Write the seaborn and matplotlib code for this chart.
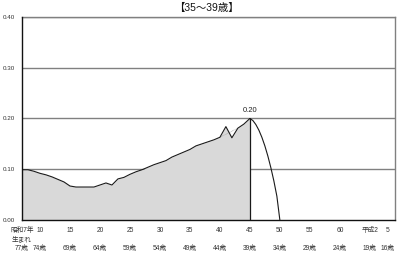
import numpy as np
import pandas as pd
import matplotlib
matplotlib.use("Agg")
import matplotlib.pyplot as plt
import seaborn as sns
from matplotlib.ticker import MultipleLocator

sns.set_style("white")
plt.rcParams['font.family'] = ['Liberation Sans', 'Noto Sans CJK JP', 'DejaVu Sans']

title = "【35～39歳】"
years = [7, 8, 9, 10, 11, 12, 13, 14, 15, 16, 17, 18, 19, 20, 21, 22, 23, 24, 25, 26,
         27, 28, 29, 30, 31, 32, 33, 34, 35, 36, 37, 38, 39, 40, 41, 42, 43, 44, 45]
values = [0.099, 0.099, 0.096, 0.092, 0.089, 0.085, 0.080, 0.075, 0.067, 0.065,
          0.065, 0.065, 0.065, 0.069, 0.073, 0.069, 0.081, 0.084, 0.090, 0.095,
          0.099, 0.104, 0.109, 0.113, 0.117, 0.124, 0.129, 0.134, 0.139, 0.146,
          0.150, 0.154, 0.158, 0.163, 0.184, 0.162, 0.181, 0.189, 0.200]
bridge_years = [40, 43]
bridge_values = [0.163, 0.181]
proj_years = [45, 45.5, 46, 46.5, 47, 47.5, 48, 48.5, 49, 49.5, 50]
proj_values = [0.200, 0.196, 0.188, 0.177, 0.163, 0.146, 0.126, 0.103, 0.077, 0.047, 0.0]
peak_label = "0.20"
xtick_pos = [7, 10, 15, 20, 25, 30, 35, 40, 45, 50, 55, 60, 65, 68]
xtick_top = ["昭和7年", "10", "15", "20", "25", "30", "35", "40", "45", "50", "55", "60", "平成2", "5"]
xtick_mid = ["生まれ", "", "", "", "", "", "", "", "", "", "", "", "", ""]
xtick_age = ["77歳", "74歳", "69歳", "64歳", "59歳", "54歳", "49歳", "44歳", "39歳",
             "34歳", "29歳", "24歳", "19歳", "16歳"]
yticks = [0.0, 0.1, 0.2, 0.3, 0.4]

df = pd.DataFrame({"year": years, "value": values})
dproj = pd.DataFrame({"year": proj_years, "value": proj_values})
dbridge = pd.DataFrame({"year": bridge_years, "value": bridge_values})

fig = plt.figure(figsize=(4.0, 2.61), dpi=100)
ax = fig.add_axes([0.055, 0.157, 0.9325, 0.778])

for yv in yticks[1:]:
    ax.axhline(yv, color="#808080", lw=1.0, zorder=1)

ax.fill_between(df["year"], 0, df["value"], color="#d9d9d9", zorder=2, lw=0)
sns.lineplot(data=df, x="year", y="value", ax=ax, color="#1a1a1a", lw=0.8, zorder=4)
sns.lineplot(data=dbridge, x="year", y="value", ax=ax, color="#999999", lw=0.5,
             linestyle=(0, (1, 1)), zorder=3)
sns.lineplot(data=dproj, x="year", y="value", ax=ax, color="#1a1a1a", lw=0.8, zorder=4)
ax.vlines(df["year"].iloc[-1], 0, df["value"].iloc[-1], color="#1a1a1a", lw=0.9, zorder=4)
ax.text(df["year"].iloc[-1], df["value"].iloc[-1] + 0.008, peak_label, ha="center",
        va="bottom", fontsize=5.5, color="#222222")

ax.set_xlim(7, 69.2)
ax.set_ylim(0, 0.40)
ax.set_xlabel("")
ax.set_ylabel("")
ax.set_yticks(yticks)
ax.set_yticklabels([f"{v:.2f}" for v in yticks], fontsize=4.5, color="#333333")
ax.set_xticks(xtick_pos)
ax.set_xticklabels([f"{a}\n{b}\n{c}" for a, b, c in zip(xtick_top, xtick_mid, xtick_age)],
                   fontsize=4.8, color="#333333", linespacing=1.4)
ax.xaxis.set_minor_locator(MultipleLocator(1))
ax.tick_params(axis="x", which="major", length=0, pad=5)
ax.tick_params(axis="x", which="minor", direction="in", length=2, width=0.6, color="#222222")
ax.tick_params(axis="y", length=0, pad=5)

for s in ["left", "bottom"]:
    ax.spines[s].set_color("#111111")
    ax.spines[s].set_linewidth(1.0)
for s in ["top", "right"]:
    ax.spines[s].set_color("#808080")
    ax.spines[s].set_linewidth(1.0)
ax.spines["left"].set_zorder(5)

fig.text(0.517, 0.968, title, ha="center", va="center", fontsize=7.5, color="#111111")

fig.savefig("out.png", dpi=100)
